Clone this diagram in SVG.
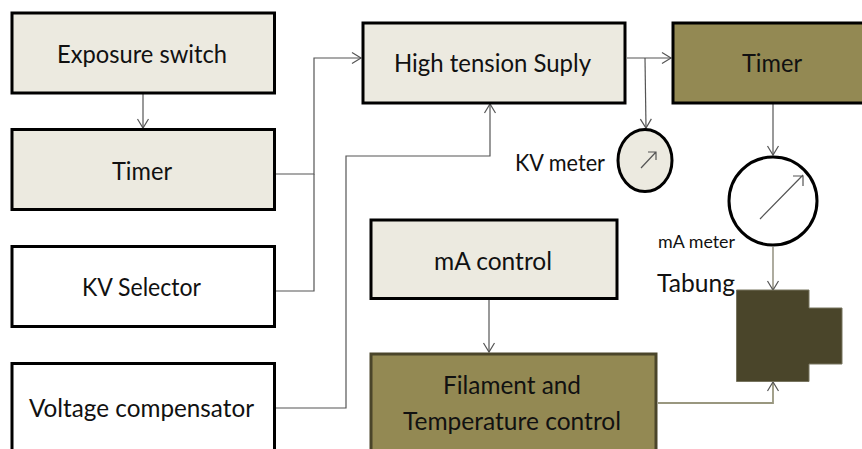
<svg xmlns="http://www.w3.org/2000/svg" width="862" height="449" viewBox="0 0 862 449">
<style>
text{font-family:"Lato","Open Sans","Liberation Sans",sans-serif;fill:#111;text-anchor:middle;font-size:25px}
.b{stroke:#000;stroke-width:3;fill:#eceae0}
.w{fill:#fff}
.o{fill:#938953}
.c{fill:none;stroke:#555;stroke-width:1.2}
.s{fill:none;stroke:#555;stroke-width:1.2;marker-end:url(#a)}
</style>
<defs><marker id="a" markerUnits="userSpaceOnUse" markerWidth="16" markerHeight="16" refX="13" refY="8" orient="auto"><path d="M4 2.500L13 8L4 13.500" fill="none" stroke="#555" stroke-width="1.200"/></marker></defs>
<rect width="862" height="449" fill="#fff"/>
<g id="connectors">
<path class="s" d="M143 94V128"/>
<path class="s" d="M276 174H314V58H361"/>
<path class="c" d="M276 291H314V174"/>
<path class="s" d="M276 408H346V156H490V104"/>
<path class="s" d="M627 58H671"/>
<path class="s" d="M645 58L646 128"/>
<path class="s" d="M773 104V155"/>
<path class="s" d="M773 247V290" style="stroke:#77745f"/>
<path class="s" d="M489 300V352"/>
<path class="s" d="M658 403H773V382" style="stroke:#99977f;stroke-width:1.800"/>
</g>
<g id="exposure-switch"><rect class="b" x="12" y="13" width="262.500" height="80"/><text x="142" y="63" textLength="170" lengthAdjust="spacingAndGlyphs">Exposure switch</text></g>
<g id="timer-1"><rect class="b" x="12" y="129.500" width="262.500" height="80"/><text x="142" y="180" textLength="60" lengthAdjust="spacingAndGlyphs">Timer</text></g>
<g id="kv-selector"><rect class="b w" x="12" y="246.500" width="262.500" height="80"/><text x="141.500" y="296" textLength="119" lengthAdjust="spacingAndGlyphs">KV Selector</text></g>
<g id="voltage-compensator"><rect class="b w" x="12" y="363.500" width="262.500" height="95"/><text x="141.500" y="417" textLength="225" lengthAdjust="spacingAndGlyphs">Voltage compensator</text></g>
<g id="high-tension"><rect class="b" x="363" y="23" width="262" height="80"/><text x="492.500" y="72" textLength="197" lengthAdjust="spacingAndGlyphs">High tension Suply</text></g>
<g id="timer-2"><rect class="b o" x="673" y="23" width="200" height="80"/><text x="772" y="72" textLength="60" lengthAdjust="spacingAndGlyphs">Timer</text></g>
<g id="ma-control"><rect class="b" x="371" y="220" width="246" height="78.500"/><text x="493" y="270" textLength="118" lengthAdjust="spacingAndGlyphs">mA control</text></g>
<g id="filament"><rect class="b o" x="371" y="354" width="285" height="105" style="stroke:#4a452a"/><text x="512" y="394" textLength="138" lengthAdjust="spacingAndGlyphs">Filament and</text><text x="512" y="430" textLength="218" lengthAdjust="spacingAndGlyphs">Temperature control</text></g>
<g id="kv-meter"><ellipse class="b" cx="645" cy="160.500" rx="27" ry="31"/><path class="c" d="M641 168L656 152M648 152H656V160"/><text x="560" y="171" textLength="90" lengthAdjust="spacingAndGlyphs" style="font-size:23px">KV meter</text></g>
<g id="ma-meter"><circle class="b w" cx="773" cy="201" r="44"/><path class="c" d="M760 219L803 175M793 176H803V186"/><text x="696.500" y="248" textLength="77" lengthAdjust="spacingAndGlyphs" style="font-size:18px">mA meter</text></g>
<g id="tabung"><path d="M736.500 290H809V308H842V364H809V381.500H736.500Z" fill="#4a452a" stroke="#77745f" stroke-width="1"/><text x="696" y="292" textLength="78" lengthAdjust="spacingAndGlyphs">Tabung</text></g>
</svg>
